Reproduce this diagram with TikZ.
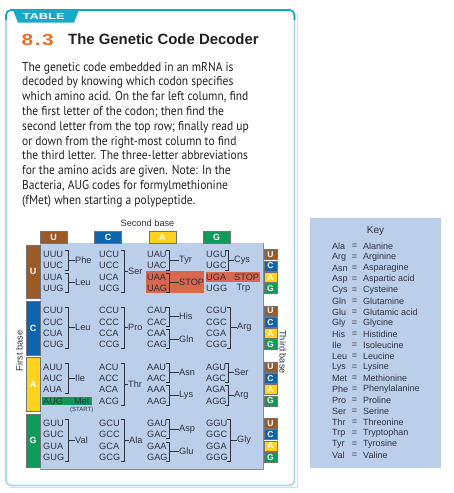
\documentclass[tikz,border=0pt]{standalone}
\usepackage{fontspec}
\setmainfont{Liberation Sans}
\newfontfamily\bodyfont[FakeStretch=0.9]{PT Sans}
\usetikzlibrary{calc}
\definecolor{framelb}{HTML}{A9D9E4}
\definecolor{tealtop}{HTML}{12A5C4}
\definecolor{tabfill}{HTML}{19A8C8}
\definecolor{numorange}{HTML}{F26A22}
\definecolor{panelblue}{HTML}{BCCFEA}
\definecolor{baseU}{HTML}{9B5A26}
\definecolor{baseC}{HTML}{0F64AE}
\definecolor{baseA}{HTML}{FDD31F}
\definecolor{baseG}{HTML}{0E9A58}
\definecolor{stopred}{HTML}{D9674D}
\definecolor{txt}{HTML}{231F20}
\definecolor{tbltxt}{HTML}{2F3040}
\newcommand\ry[2]{254.5+56.3*#1+11.3*#2}
% bracket: name, xv, block, r1, r2, label x, text
\newcommand\brk[7]{%
  \pgfmathsetmacro\ya{\ry{#3}{#4}-4}%
  \pgfmathsetmacro\yb{\ry{#3}{#5}+4}%
  \pgfmathsetmacro\ym{(\ya+\yb)/2}%
  \draw[brack] (#2-3.5,\ya) -- (#2,\ya) -- (#2,\yb) -- (#2-3.5,\yb);
  \node[lbl] (#1) at (#6,\ym) {#7};
  \draw[brack] (#2,\ym) -- (#1.west);
}
\begin{document}
\begin{tikzpicture}[x=1pt,y=-1pt,
  body/.style={font=\bodyfont\fontsize{12.8}{14}\selectfont, text=txt, inner sep=0pt, anchor=base west},
  codon/.style={font=\fontsize{9.2}{10}\selectfont, text=tbltxt, inner sep=0pt, anchor=west},
  lbl/.style={font=\fontsize{9.2}{10}\selectfont, text=tbltxt, inner sep=0pt, anchor=west},
  brack/.style={draw=tbltxt, line width=0.6pt},
  hdr/.style={draw=black!55, line width=0.5pt, text=white, inner sep=0pt, font=\bfseries\fontsize{9}{10}\selectfont},
  keyt/.style={font=\fontsize{9}{10}\selectfont, text=tbltxt, inner sep=0pt, anchor=west}
]
\useasboundingbox (0,0) rectangle (454,493);
% frame
\draw[framelb!70, line width=1pt] (297,14) -- (297,487.5) -- (10,487.5);
\draw[framelb, line width=1.6pt, rounded corners=5] (6,10) rectangle (294.5,485.5);
\draw[tealtop, line width=1.6pt, rounded corners=5] (6,20) -- (6,10) -- (294.5,10) -- (294.5,20);
\fill[tabfill] (13,10) -- (79,10) -- (74,22.5) -- (18,22.5) -- cycle;
\node[text=white, inner sep=0pt, font=\bfseries\fontsize{8.6}{9}\selectfont] (tab) at (43.7,16.4) {\scalebox{1.5}[1]{TABLE}};
% title
\node[anchor=base west, inner sep=0pt, text=numorange, font=\bfseries\fontsize{16}{16}\selectfont] (num) at (21.5,45) {\scalebox{1.3}[1]{8\kern1.2pt.\kern1.2pt3}};
\node[anchor=base west, inner sep=0pt, text=txt, font=\bfseries\fontsize{14.9}{15}\selectfont] (title) at (68,44.3) {The Genetic Code Decoder};
% body text
\node[body] (t1) at (22,71) {The genetic code embedded in an mRNA is};
\node[body] (t2) at (22,85.8) {decoded by knowing which codon specifies};
\node[body] (t3) at (22,100.6) {which amino acid. On the far left column, find};
\node[body] (t4) at (22,115.4) {the first letter of the codon; then find the};
\node[body] (t5) at (22,130.2) {second letter from the top row; finally read up};
\node[body] (t6) at (22,145) {or down from the right-most column to find};
\node[body] (t7) at (22,159.8) {the third letter. The three-letter abbreviations};
\node[body] (t8) at (22,174.6) {for the amino acids are given. Note: In the};
\node[body] (t9) at (22,189.4) {Bacteria, AUG codes for formylmethionine};
\node[body] (t10) at (22,204.2) {(fMet) when starting a polypeptide.};
% table
\node[lbl, anchor=center] (second) at (147.5,223.5) {Second base};
\fill[panelblue] (40,243) rectangle (263,469);
\draw[black!45, line width=1.2pt] (263.3,243) -- (263.3,469.3) -- (40,469.3);
\node[hdr, fill=baseU, minimum width=27, minimum height=12] (hU) at (53.5,237) {U};
\node[hdr, fill=baseC, minimum width=27, minimum height=12] (hC) at (108,237) {C};
\node[hdr, fill=baseA, minimum width=27, minimum height=12] (hA) at (162.3,237) {A};
\node[hdr, fill=baseG, minimum width=27, minimum height=12] (hG) at (216.5,237) {G};
\foreach \F/\col [count=\b from 0] in {U/baseU,C/baseC,A/baseA,G/baseG}{
  \pgfmathsetmacro\yc{(\ry{\b}{0}-9.5+\ry{\b}{3}+10)/2}
  \node[hdr, fill=\col, minimum width=14, minimum height=53.5] (f\F) at (33,\yc) {\F};
  \foreach \T/\tc [count=\r from 0] in {U/baseU,C/baseC,A/baseA,G/baseG}{
    \node[hdr, fill=\tc, minimum width=12.5, minimum height=10, font=\bfseries\fontsize{8.5}{9}\selectfont] (t\F\T) at (270.5,{\ry{\b}{\r}}) {\T};
  }
}
% highlights
\fill[stopred] (146,{\ry{0}{2}-6}) rectangle (204,{\ry{0}{3}+5});
\fill[stopred] (205.5,{\ry{0}{2}-5.5}) rectangle (259.5,{\ry{0}{2}+4.5});
\fill[baseG] (41.5,{\ry{2}{3}-4.5}) rectangle (91.5,{\ry{2}{3}+4});
% codons
\foreach \F [count=\b from 0] in {U,C,A,G}{
  \foreach \S/\cx in {U/43,C/99,A/147,G/206}{
    \foreach \T [count=\r from 0] in {U,C,A,G}{
      \node[codon] (c\F\S\T) at (\cx,{\ry{\b}{\r}}) {\F\S\T};
    }
  }
}
% column 1
\brk{lPhe}{68}{0}{0}{1}{75}{Phe}
\brk{lLeuA}{68}{0}{2}{3}{75}{Leu}
\brk{lLeuB}{68}{1}{0}{3}{75}{Leu}
\brk{lIle}{68}{2}{0}{2}{75}{Ile}
\node[lbl] (lMet) at (74,{\ry{2}{3}}) {Met};
\node[lbl, anchor=center, font=\fontsize{6}{6}\selectfont] (lStart) at (81.7,{\ry{2}{3}+8.5}) {(START)};
\brk{lVal}{68}{3}{0}{3}{75}{Val}
% column 2
\brk{lSer}{124}{0}{0}{3}{128}{Ser}
\brk{lPro}{124}{1}{0}{3}{128}{Pro}
\brk{lThr}{124}{2}{0}{3}{128}{Thr}
\brk{lAla}{124}{3}{0}{3}{129}{Ala}
% column 3
\brk{lTyr}{169}{0}{0}{1}{179}{Tyr}
\brk{lStopA}{169}{0}{2}{3}{179}{STOP}
\brk{lHis}{169}{1}{0}{1}{179}{His}
\brk{lGln}{169}{1}{2}{3}{179}{Gln}
\brk{lAsn}{169}{2}{0}{1}{179}{Asn}
\brk{lLys}{169}{2}{2}{3}{179}{Lys}
\brk{lAsp}{169}{3}{0}{1}{179}{Asp}
\brk{lGlu}{169}{3}{2}{3}{179}{Glu}
% column 4
\brk{lCys}{228}{0}{0}{1}{234}{Cys}
\node[lbl] (lStopG) at (234,{\ry{0}{2}}) {STOP};
\node[lbl] (lTrp) at (236.5,{\ry{0}{3}}) {Trp};
\brk{lArgA}{230.5}{1}{0}{3}{237}{Arg}
\brk{lSerB}{228}{2}{0}{1}{234}{Ser}
\brk{lArgB}{228}{2}{2}{3}{234}{Arg}
\brk{lGly}{230.5}{3}{0}{3}{237}{Gly}
\node[lbl, anchor=center, rotate=90] (first) at (19.3,351) {First base};
\node[lbl, anchor=center, rotate=-90] (third) at (283,352) {Third base};
% key
\fill[panelblue] (310,218) rectangle (441,468);
\node[keyt, anchor=center, font=\fontsize{10}{10}\selectfont] (key) at (375.5,231) {Key};
\foreach \ab/\nm [count=\i from 0] in {Ala/Alanine,Arg/Arginine,Asn/Asparagine,Asp/Aspartic acid,Cys/Cysteine,Gln/Glutamine,Glu/Glutamic acid,Gly/Glycine,His/Histidine,Ile/Isoleucine,Leu/Leucine,Lys/Lysine,Met/Methionine,Phe/Phenylalanine,Pro/Proline,Ser/Serine,Thr/Threonine,Trp/Tryptophan,Tyr/Tyrosine,Val/Valine}{
  \node[keyt] (ka\i) at (332,{246+11*\i}) {\ab};
  \node[keyt, anchor=center] (ke\i) at (354.5,{246+11*\i}) {=};
  \node[keyt] (kn\i) at (363,{246+11*\i}) {\nm};
}
\end{tikzpicture}
\end{document}
